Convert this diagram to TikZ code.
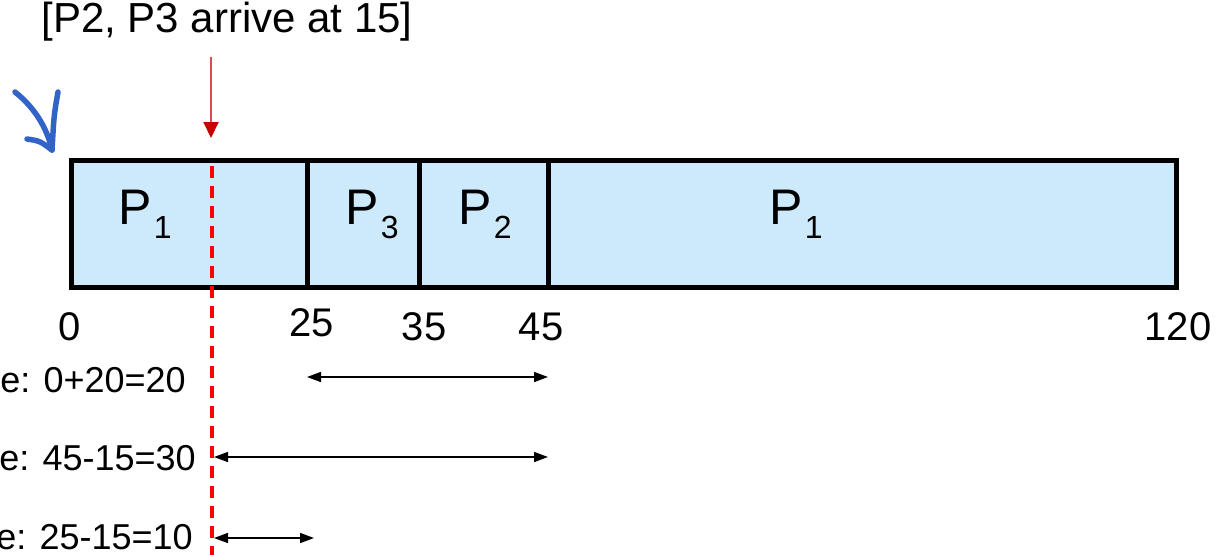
\documentclass[tikz,border=0pt]{standalone}
\usepackage{fontspec}
\setmainfont{Liberation Sans}
\usetikzlibrary{arrows.meta}
\definecolor{barfill}{RGB}{204,234,252}
\definecolor{handblue}{RGB}{50,100,200}
\definecolor{darkred}{RGB}{200,0,0}
\definecolor{shaftred}{RGB}{215,80,80}
\tikzset{
  bar/.style={draw=black, line width=5pt, fill=barfill},
  plabel/.style={font=\fontsize{50}{60}\selectfont, inner sep=0pt},
  tick/.style={font=\fontsize{40}{48}\selectfont, inner sep=0pt},
  rowlabel/.style={font=\fontsize{36}{43}\selectfont, inner sep=0pt, anchor=east},
  span/.style={draw=black, line width=1.5pt, {Triangle[length=14pt,width=10pt]}-{Triangle[length=14pt,width=10pt]}},
  hand/.style={draw=handblue, line width=5.5pt, line cap=round, line join=round},
}
\newcommand{\Pn}[1]{P\kern0.04em\raisebox{-0.28em}{\fontsize{32}{38}\selectfont #1}}
\begin{document}
\begin{tikzpicture}[x=1pt,y=-1pt]
\useasboundingbox (0,0) rectangle (1217,555);
% bar segments
\draw[bar] (71,160.5) rectangle (307,287.5);
\draw[bar] (307,160.5) rectangle (419,287.5);
\draw[bar] (419,160.5) rectangle (548,287.5);
\draw[bar] (548,160.5) rectangle (1176,287.5);
% segment labels
\node[plabel] (s1) at (145,214) {\Pn{1}};
\node[plabel] (s2) at (372,214) {\Pn{3}};
\node[plabel] (s3) at (485,214) {\Pn{2}};
\node[plabel] (s4) at (796,214) {\Pn{1}};
% time ticks
\node[tick] (t0) at (70,327) {0};
\node[tick] (t25) at (312,323) {25};
\node[tick] (t35) at (424,327) {35};
\node[tick] (t45) at (541,327) {45};
\node[tick] (t120) at (1178,327) {120};
% arrival annotation
\node[font=\fontsize{42}{50}\selectfont, inner sep=0pt] (arr) at (227,22) {[P2, P3 arrive at 15]};
\coordinate (arrS) at (211,57);
\coordinate (arrE) at (211,138);
\draw[draw=shaftred, line width=2pt, -{Triangle[length=16pt,width=15pt,color=darkred]}] (arrS) -- (arrE);
% dashed line at 15
\coordinate (dTop) at (212,166);
\coordinate (dBot) at (212,555);
\draw[red, line width=3.5pt, dash pattern=on 12pt off 8pt] (dTop) -- (dBot);
% row labels
\node[rowlabel] (r1) at (186,380) {e: 0+20=20};
\node[rowlabel] (r2) at (196,458) {e: 45-15=30};
\node[rowlabel] (r3) at (193,537) {e: 25-15=10};
% spans
\coordinate (a1) at (307,377); \coordinate (b1) at (548,377);
\coordinate (a2) at (214,457); \coordinate (b2) at (548,457);
\coordinate (a3) at (214,538); \coordinate (b3) at (314,538);
\draw[span] (a1) -- (b1);
\draw[span] (a2) -- (b2);
\draw[span] (a3) -- (b3);
% hand-drawn blue arrow
\coordinate (hTip) at (52,150);
\draw[hand] (15,92) .. controls (35,108) and (47,128) .. (hTip);
\draw[hand] (27,139) .. controls (40,141) .. (hTip);
\draw[hand] (58,92) .. controls (54,115) .. (hTip);
\end{tikzpicture}
\end{document}
